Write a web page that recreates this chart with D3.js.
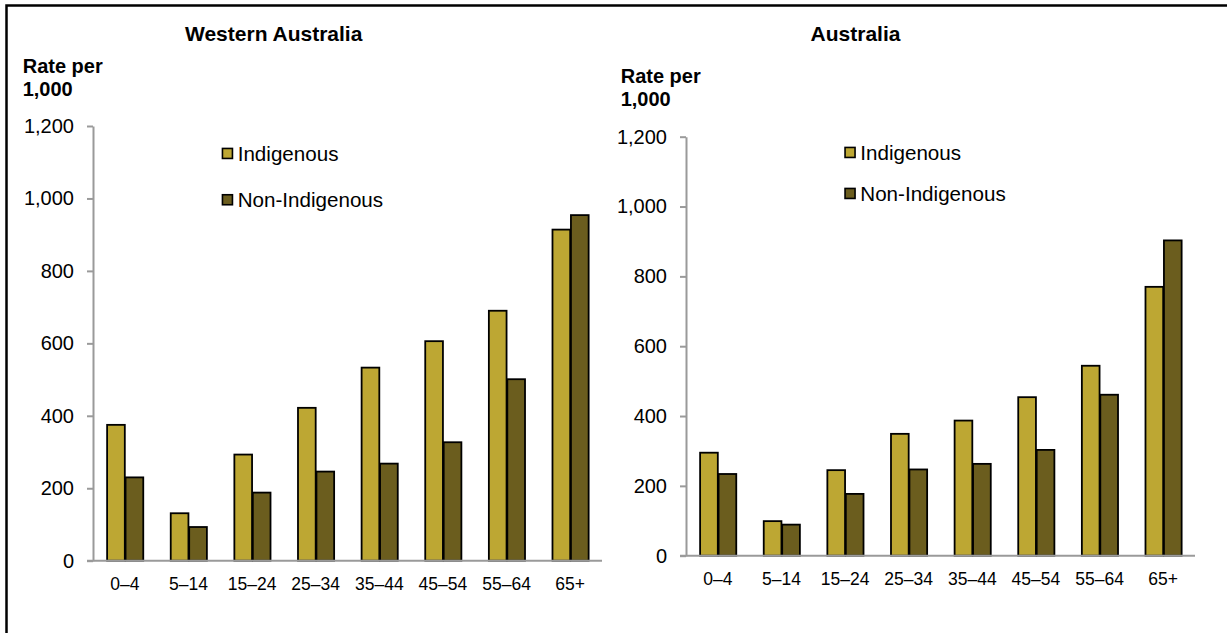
<!DOCTYPE html>
<html>
<head>
<meta charset="utf-8">
<script src="https://cdn.jsdelivr.net/npm/d3@7"></script>
<style>
  html, body { margin: 0; padding: 0; background: #fff; }
  svg { display: block; font-family: "Liberation Sans", Arial, Helvetica, sans-serif; }
</style>
</head>
<body>
<svg id="chart" width="1227" height="633"></svg>
<script>
// Age groups and rates per 1,000 population
const ageGroups = ["0–4", "5–14", "15–24", "25–34", "35–44", "45–54", "55–64", "65+"];
const seriesNames = ["Indigenous", "Non-Indigenous"];
const waIndigenous    = [375, 131, 293, 422, 533, 606, 690, 914];
const waNonIndigenous = [230,  93, 188, 246, 268, 327, 501, 954];
const ausIndigenous    = [295,  99, 245, 349, 387, 454, 544, 770];
const ausNonIndigenous = [234,  89, 177, 247, 263, 303, 461, 903];
const yTicks = [0, 200, 400, 600, 800, 1000, 1200];

const colors = { "Indigenous": "#bda733", "Non-Indigenous": "#6b5d1e" };

const svg = d3.select("#chart");

// Outer frame (left and top edges)
svg.append("path")
  .attr("d", "M6.5,633 V5.5 H1227")
  .attr("fill", "none")
  .attr("stroke", "#000")
  .attr("stroke-width", 2.5);

const panels = [
  {
    title: "Western Australia", values: [waIndigenous, waNonIndigenous],
    x0: 93, x1: 602, yBottom: 560.7, yTop: 126,
    titleX: 273.7, unitX: 22.7, unitY: 73.3,
    legendX: 221.7, legendY: [147.7, 194], xLabelY: 590
  },
  {
    title: "Australia", values: [ausIndigenous, ausNonIndigenous],
    x0: 686, x1: 1195, yBottom: 555.7, yTop: 136.7,
    titleX: 855.5, unitX: 620.7, unitY: 83.3,
    legendX: 844.3, legendY: [146.7, 187.7], xLabelY: 585
  }
];

panels.forEach(p => {
  const g = svg.append("g");

  const x = d3.scaleBand().domain(ageGroups).range([p.x0, p.x1])
    .paddingInner(0.42).paddingOuter(0.21);
  const xs = d3.scaleBand().domain(seriesNames).range([0, x.bandwidth()]);
  const y = d3.scaleLinear().domain([0, 1200]).range([p.yBottom, p.yTop]);

  // Title
  g.append("text")
    .attr("x", p.titleX).attr("y", 41)
    .attr("text-anchor", "middle")
    .attr("font-size", 21).attr("font-weight", "bold").attr("fill", "#000")
    .text(p.title);

  // Unit label
  const unit = g.append("text")
    .attr("font-size", 20).attr("font-weight", "bold").attr("fill", "#000");
  unit.append("tspan").attr("x", p.unitX).attr("y", p.unitY).text("Rate per");
  unit.append("tspan").attr("x", p.unitX).attr("y", p.unitY + 22.7).text("1,000");

  // Y axis
  const yAxis = g.append("g")
    .attr("transform", `translate(${p.x0},0)`)
    .call(d3.axisLeft(y).tickValues(yTicks).tickFormat(d3.format(","))
      .tickSize(6).tickSizeOuter(0).tickPadding(13));
  yAxis.select(".domain").attr("stroke", "#9a9a9a").attr("stroke-width", 2);
  yAxis.selectAll(".tick line").attr("stroke", "#9a9a9a").attr("stroke-width", 2);
  yAxis.selectAll(".tick text")
    .attr("font-size", 20).attr("fill", "#000")
    .attr("font-family", "'Liberation Sans', Arial, sans-serif");

  // Bars
  const groups = g.append("g").selectAll("g")
    .data(ageGroups)
    .join("g")
    .attr("transform", d => `translate(${x(d)},0)`);

  groups.selectAll("rect")
    .data((d, i) => seriesNames.map((s, k) => ({ series: s, value: p.values[k][i] })))
    .join("rect")
    .attr("x", d => xs(d.series) + 0.75)
    .attr("width", xs.bandwidth() - 0.75)
    .attr("y", d => y(d.value))
    .attr("height", d => y(0) - y(d.value))
    .attr("fill", d => colors[d.series])
    .attr("stroke", "#000")
    .attr("stroke-width", 1.8);

  // X axis (line and category labels)
  const xAxis = g.append("g")
    .attr("transform", `translate(0,${p.yBottom})`)
    .call(d3.axisBottom(x).tickSize(0).tickPadding(0));
  xAxis.select(".domain").remove();
  xAxis.selectAll(".tick text")
    .attr("y", p.xLabelY - p.yBottom).attr("dy", null)
    .attr("font-size", 17.5).attr("fill", "#000")
    .attr("font-family", "'Liberation Sans', Arial, sans-serif");
  g.append("line")
    .attr("x1", p.x0 - 6).attr("x2", p.x1)
    .attr("y1", p.yBottom).attr("y2", p.yBottom)
    .attr("stroke", "#9a9a9a").attr("stroke-width", 2);

  // Legend
  seriesNames.forEach((s, k) => {
    g.append("rect")
      .attr("x", p.legendX + 0.75).attr("y", p.legendY[k] + 0.75)
      .attr("width", 10).attr("height", 10)
      .attr("fill", colors[s]).attr("stroke", "#000").attr("stroke-width", 1.6);
    g.append("text")
      .attr("x", p.legendX + 16).attr("y", p.legendY[k] + 12.8)
      .attr("font-size", 20.6).attr("fill", "#000")
      .text(s);
  });
});
</script>
</body>
</html>
